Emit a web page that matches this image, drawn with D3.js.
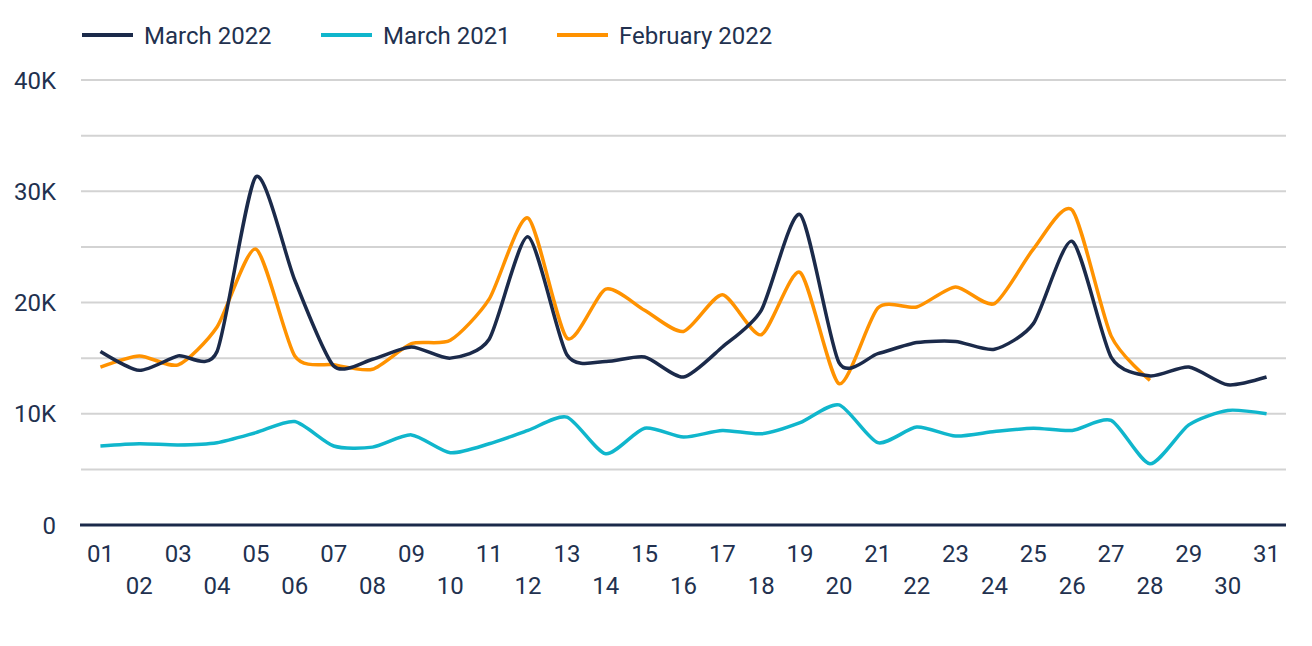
<!DOCTYPE html>
<html>
<head>
<meta charset="utf-8">
<script src="https://cdn.jsdelivr.net/npm/d3@7"></script>
<style>
  body { margin: 0; background: #fff; }
  text { font-family: Roboto, "Noto Sans", sans-serif; fill: #22314f; }
</style>
</head>
<body>
<div id="chart"></div>
<script>
// days of month on x axis
const days = d3.range(1, 32).map(d => String(d).padStart(2, "0"));

// values in K
const march2022 = [15.6, 13.9, 15.2, 15.6, 31.3, 22.0, 14.3, 14.9, 16.0, 15.0, 16.7,
  25.9, 15.3, 14.7, 15.1, 13.3, 16.0, 19.3, 27.9, 14.6, 15.4,
  16.4, 16.5, 15.8, 18.1, 25.5, 15.1, 13.4, 14.2, 12.6, 13.3];
const march2021 = [7.1, 7.3, 7.2, 7.4, 8.3, 9.3, 7.1, 7.0, 8.1, 6.5, 7.3,
  8.5, 9.7, 6.4, 8.7, 7.9, 8.5, 8.2, 9.2, 10.8, 7.4,
  8.8, 8.0, 8.4, 8.7, 8.5, 9.4, 5.5, 9.0, 10.3, 10.0];
const feb2022 = [14.2, 15.2, 14.4, 17.8, 24.8, 15.2, 14.4, 14.0, 16.3, 16.6, 20.3,
  27.6, 16.8, 21.2, 19.3, 17.4, 20.7, 17.1, 22.7, 12.7, 19.5,
  19.6, 21.4, 19.9, 24.8, 28.3, 17.0, 13.0];

const yTicks = [0, 10, 20, 30, 40];
const gridValues = [5, 10, 15, 20, 25, 30, 35, 40];

const seriesNames = ["March 2022", "March 2021", "February 2022"];
const seriesColors = ["#1b2a4a", "#10b6cc", "#ff9200"];
const seriesValues = [march2022, march2021, feb2022];

const width = 1312, height = 646;
const margin = { top: 80, right: 26, bottom: 121, left: 81 };

const svg = d3.select("#chart").append("svg")
  .attr("width", width)
  .attr("height", height);

const x = d3.scalePoint()
  .domain(days)
  .range([margin.left, width - margin.right])
  .padding(0.5);

const y = d3.scaleLinear()
  .domain([0, 40])
  .range([height - margin.bottom, margin.top]);

// gridlines
svg.append("g")
  .selectAll("line")
  .data(gridValues)
  .join("line")
  .attr("x1", margin.left)
  .attr("x2", width - margin.right)
  .attr("y1", d => y(d))
  .attr("y2", d => y(d))
  .attr("stroke", "#d3d3d3")
  .attr("stroke-width", 2);

// y labels
svg.append("g")
  .selectAll("text")
  .data(yTicks)
  .join("text")
  .attr("x", 56)
  .attr("y", d => y(d))
  .attr("dy", "0.36em")
  .attr("text-anchor", "end")
  .style("font-size", "24px")
  .text(d => d === 0 ? "0" : d + "K");

// x axis baseline
svg.append("line")
  .attr("x1", margin.left - 1)
  .attr("x2", width - margin.right)
  .attr("y1", y(0))
  .attr("y2", y(0))
  .attr("stroke", "#1b2a4a")
  .attr("stroke-width", 3);

// x labels, staggered on two rows
svg.append("g")
  .selectAll("text")
  .data(days)
  .join("text")
  .attr("x", d => x(d))
  .attr("y", (d, i) => i % 2 === 0 ? 562 : 594)
  .attr("text-anchor", "middle")
  .style("font-size", "24px")
  .text(d => d);

const line = d3.line()
  .x((d, i) => x(days[i]))
  .y(d => y(d))
  .curve(d3.curveCardinal.tension(0.3));

// March 2021 first, then February, March 2022 on top
const order = [1, 2, 0];
order.forEach(k => {
  svg.append("path")
    .datum(seriesValues[k])
    .attr("d", line)
    .attr("fill", "none")
    .attr("stroke", seriesColors[k])
    .attr("stroke-width", 3.5)
    .attr("stroke-linejoin", "round");
});

// legend
const legendX = [82, 321, 557];
const legend = svg.append("g")
  .selectAll("g")
  .data(seriesNames)
  .join("g")
  .attr("transform", (d, i) => `translate(${legendX[i]}, 35)`);

legend.append("line")
  .attr("x1", 0).attr("x2", 51)
  .attr("stroke", (d, i) => seriesColors[i])
  .attr("stroke-width", 4);

legend.append("text")
  .attr("x", 62)
  .attr("dy", "0.36em")
  .style("font-size", "24px")
  .text(d => d);
</script>
</body>
</html>
